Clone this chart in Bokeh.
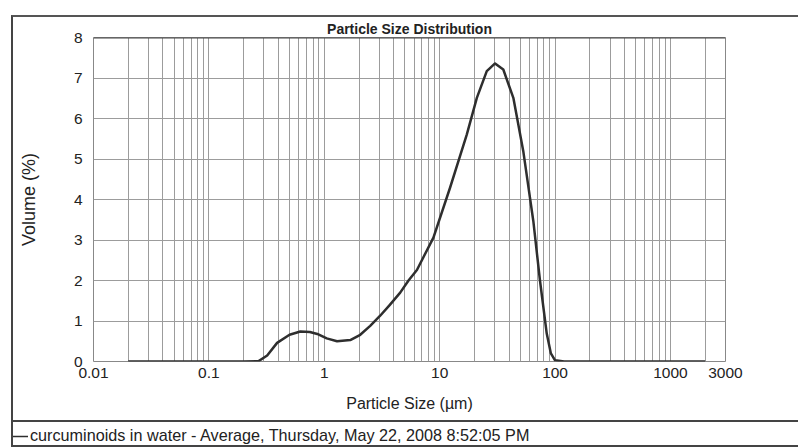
from bokeh.plotting import figure
from bokeh.layouts import column
from bokeh.models import (FixedTicker, Legend, LegendItem, Span,
                          ColumnDataSource, Range1d, InlineStyleSheet)
from bokeh.embed import file_html
from bokeh.resources import INLINE

# ---- data ----
particle_size_um = [0.02, 0.05, 0.1, 0.2, 0.27, 0.32, 0.39, 0.5, 0.62, 0.75, 0.87,
                    1.05, 1.29, 1.68, 2.05, 2.5, 3.05, 3.7, 4.55, 5.37, 6.35, 8.83,
                    12.3, 17.2, 21.0, 25.6, 30.2, 35.6, 43.5, 53.0, 64.8, 74.0,
                    84.7, 92.0, 100.0, 120.0, 500.0, 2000.0]
volume_pct = [0.0, 0.0, 0.0, 0.0, 0.01, 0.15, 0.46, 0.66, 0.74, 0.73, 0.68,
              0.57, 0.5, 0.53, 0.66, 0.88, 1.13, 1.4, 1.7, 2.0, 2.26, 3.06,
              4.29, 5.61, 6.51, 7.17, 7.36, 7.21, 6.51, 5.2, 3.47, 2.0,
              0.69, 0.2, 0.03, 0.0, 0.0, 0.0]

x_tick_values = [0.01, 0.1, 1, 10, 100, 1000, 3000]
x_tick_labels = ["0.01", "0.1", "1", "10", "100", "1000", "3000"]
y_tick_values = [0, 1, 2, 3, 4, 5, 6, 7, 8]
x_min, x_max = 0.01, 3000
y_min, y_max = 0, 8

title_text = "Particle Size Distribution"
x_label = "Particle Size (µm)"
y_label = "Volume (%)"
series_label = "curcuminoids in water - Average, Thursday, May 22, 2008 8:52:05 PM"

FONT = "Liberation Sans"
TXT = "#222222"
CURVE = "#2e2e2e"

src = ColumnDataSource(dict(x=particle_size_um, y=volume_pct))

# ---------------- main chart ----------------
p = figure(width=798, height=420, x_axis_type="log",
           x_range=Range1d(x_min, x_max), y_range=Range1d(y_min, y_max),
           output_backend="svg", toolbar_location=None,
           min_border_left=93, min_border_right=73,
           min_border_top=37, min_border_bottom=59)
p.frame_align = False

p.title.text = title_text
p.title.align = "center"
p.title.text_font = FONT
p.title.text_font_size = "14px"
p.title.text_font_style = "bold"
p.title.text_color = TXT
p.title.standoff = 2
p.title.offset = 0

minor = []
for k in range(-2, 4):
    for m in range(2, 10):
        v = m * 10.0 ** k
        if v < x_max:
            minor.append(v)

p.xaxis.ticker = FixedTicker(ticks=x_tick_values, minor_ticks=minor)
p.xaxis.major_label_overrides = {v: s for v, s in zip(x_tick_values, x_tick_labels)}
p.yaxis.ticker = FixedTicker(ticks=y_tick_values)

for ax in (p.xaxis[0], p.yaxis[0]):
    ax.axis_line_color = None
    ax.major_tick_line_color = None
    ax.minor_tick_line_color = None
    ax.major_tick_out = 0
    ax.major_tick_in = 0
    ax.minor_tick_out = 0
    ax.minor_tick_in = 0
    ax.major_label_text_font = FONT
    ax.major_label_text_font_size = "15.5px"
    ax.major_label_text_color = TXT
    ax.axis_label_text_font = FONT
    ax.axis_label_text_font_style = "normal"
    ax.axis_label_text_color = TXT

p.xaxis.axis_label = x_label
p.yaxis.axis_label = y_label
p.xaxis.axis_label_text_font_size = "16px"
p.yaxis.axis_label_text_font_size = "18px"
p.xaxis.major_label_standoff = 6
p.xaxis.axis_label_standoff = 14
p.yaxis.major_label_standoff = 11
p.yaxis.axis_label_standoff = 32

grid_col = "#9c9c9c"
p.xgrid.grid_line_color = grid_col
p.xgrid.minor_grid_line_color = grid_col
p.ygrid.grid_line_color = grid_col

p.outline_line_color = "#888888"
p.add_layout(Span(location=y_max, dimension="width", line_color="#444444", line_width=2))

r = p.line("x", "y", source=src, line_color=CURVE, line_width=2.5, line_join="round")

# ---------------- legend strip under the chart ----------------
p2 = figure(width=798, height=27, x_axis_type="log",
            x_range=p.x_range, y_range=Range1d(100, 101),
            output_backend="svg", toolbar_location=None,
            x_axis_location=None, y_axis_location=None,
            min_border_left=0, min_border_right=0,
            min_border_top=0, min_border_bottom=0)
p2.frame_align = False
p2.grid.visible = False
p2.outline_line_color = None
r2 = p2.line("x", "y", source=src, line_color=CURVE, line_width=1.5)

legend = Legend(items=[LegendItem(label=series_label, renderers=[r2])],
                location=(12, 2), padding=1, margin=0,
                glyph_width=16, glyph_height=18, label_standoff=2,
                label_text_font=FONT, label_text_font_size="16.2px",
                label_text_color=TXT,
                background_fill_alpha=0, border_line_color=None)
p2.add_layout(legend)

layout = column(p, p2, spacing=0)

# outer frame of the printed report and the divider above the legend
css = """
:host::before {
  content: ""; position: absolute; z-index: 10; pointer-events: none;
  left: 11px; top: 15px; width: 787px; height: 432px; box-sizing: border-box;
  border-left: 2px solid #444; border-top: 2px solid #555; border-bottom: 2px solid #444;
}
:host::after {
  content: ""; position: absolute; z-index: 10; pointer-events: none;
  left: 11px; top: 420px; width: 787px; height: 0;
  border-top: 2px solid #444;
}
"""
layout.stylesheets = [InlineStyleSheet(css=css)]

open("out.html", "w").write(file_html(layout, INLINE))
